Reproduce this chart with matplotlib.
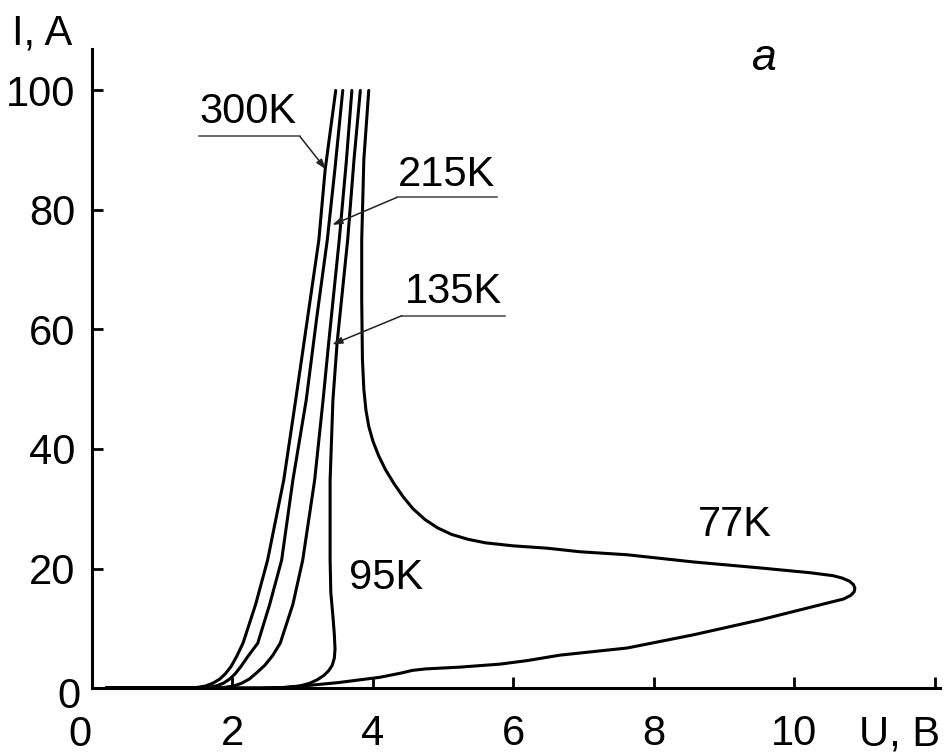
import matplotlib.pyplot as plt
import matplotlib.transforms as mtransforms

plt.rcParams['font.family'] = ['Liberation Sans', 'DejaVu Sans']

# I-V curves (U in volts, I in amperes)
u_300 = [0.2, 1.30, 1.50, 1.62, 1.72, 1.82, 1.90, 1.98, 2.06, 2.15, 2.33, 2.50, 2.73, 2.90,
         3.07, 3.23, 3.32, 3.47]
i_300 = [0.0, 0.0, 0.1, 0.35, 0.8, 1.5, 2.4, 3.6, 5.3, 7.5, 14.0, 21.4, 34.8, 48.2,
         62.0, 75.0, 86.8, 100.0]

u_215 = [0.2, 1.45, 1.65, 1.77, 1.87, 1.96, 2.04, 2.12, 2.22, 2.36, 2.53, 2.70, 2.86, 3.05,
         3.20, 3.35, 3.46, 3.57]
i_215 = [0.0, 0.0, 0.1, 0.35, 0.8, 1.5, 2.4, 3.6, 5.3, 7.5, 14.0, 21.4, 34.8, 48.2,
         62.0, 75.0, 87.0, 100.0]

u_135 = [0.2, 1.65, 1.88, 2.02, 2.13, 2.24, 2.34, 2.46, 2.57, 2.68, 2.86, 3.00, 3.17, 3.29,
         3.37, 3.52, 3.62, 3.70]
i_135 = [0.0, 0.0, 0.1, 0.35, 0.8, 1.5, 2.5, 3.8, 5.4, 7.5, 14.0, 21.4, 34.8, 48.2,
         57.8, 75.0, 88.0, 100.0]

u_95 = [0.2, 2.40, 2.75, 2.96, 3.10, 3.21, 3.30, 3.37, 3.42, 3.45, 3.46, 3.45, 3.43, 3.40,
        3.39, 3.39, 3.43, 3.49, 3.64, 3.73, 3.82]
i_95 = [0.0, 0.0, 0.1, 0.35, 0.8, 1.4, 2.1, 2.9, 3.8, 5.0, 6.5, 9.0, 12.0, 16.0,
        21.4, 34.8, 48.2, 57.8, 75.0, 88.4, 100.0]

u_77 = [0.2, 2.40, 2.75, 2.96, 3.50, 4.10, 4.40, 4.56, 4.75, 5.00, 5.24, 5.81, 6.20, 6.66,
        7.62, 8.56, 9.51, 10.46, 10.70, 10.80, 10.85, 10.86, 10.84, 10.78, 10.68, 10.55,
        10.22, 9.51, 8.56, 7.62, 6.95, 6.48, 5.99, 5.60, 5.35, 5.12, 4.92, 4.74, 4.57,
        4.43, 4.30, 4.18, 4.08, 4.00, 3.94, 3.90, 3.87, 3.85, 3.84, 3.84, 3.87, 3.94]
i_77 = [0.0, 0.0, 0.1, 0.3, 0.9, 1.8, 2.5, 2.95, 3.2, 3.35, 3.5, 4.0, 4.6, 5.5,
        6.7, 8.9, 11.4, 14.2, 14.9, 15.5, 16.1, 16.7, 17.3, 17.9, 18.4, 18.8,
        19.3, 20.1, 21.1, 22.3, 22.8, 23.4, 23.8, 24.3, 24.9, 25.7, 26.8, 28.2, 30.0,
        32.0, 34.2, 36.5, 38.9, 41.3, 43.8, 46.5, 50.0, 55.0, 65.0, 75.0, 88.4, 100.0]

curves = [(u_300, i_300), (u_215, i_215), (u_135, i_135), (u_95, i_95), (u_77, i_77)]

x_ticks = [0, 2, 4, 6, 8, 10, 12]
x_tick_labels = ['', '2', '4', '6', '8', '10', '']
y_ticks = [0, 20, 40, 60, 80, 100]
y_tick_labels = ['', '20', '40', '60', '80', '100']

# labels with leader: text, text centre, shelf start, shelf end, arrow tip
leader_labels = [
    ('300K', (2.22, 96.4), (1.52, 92.3), (2.96, 92.3), (3.33, 86.8)),
    ('215K', (5.05, 85.9), (5.77, 82.1), (4.34, 82.1), (3.42, 77.5)),
    ('135K', (5.14, 66.2), (5.88, 62.3), (4.41, 62.3), (3.42, 57.5)),
]
plain_labels = [('95K', (4.19, 18.4)), ('77K', (9.15, 27.3))]

fig = plt.figure(figsize=(9.51, 7.54), dpi=100)
ax = fig.add_axes([0.0967, 0.0875, 0.8916, 0.848])

for u, i in curves:
    ax.plot(u, i, color='black', lw=2.2, solid_joinstyle='round', solid_capstyle='round')

for text, (tx, ty), shelf_a, shelf_b, tip in leader_labels:
    ax.text(tx, ty, text, fontsize=30, ha='center', va='center')
    ax.plot([shelf_a[0], shelf_b[0]], [shelf_a[1], shelf_b[1]], color='#444444', lw=1.1)
    ax.annotate('', xy=tip, xytext=shelf_b,
                arrowprops=dict(arrowstyle='-|>,head_length=0.6,head_width=0.2',
                                color='#222222', lw=1.1, shrinkA=0, shrinkB=0))

for text, (tx, ty) in plain_labels:
    ax.text(tx, ty, text, fontsize=30, ha='center', va='center')

# the two zeros at the origin sit a bit off their ticks
zero_x = mtransforms.offset_copy(ax.transAxes, fig=fig, x=-12, y=-47, units='dots')
ax.text(0, 0, '0', transform=zero_x, fontsize=30, ha='center', va='center')
zero_y = mtransforms.offset_copy(ax.transAxes, fig=fig, x=-23, y=-9, units='dots')
ax.text(0, 0, '0', transform=zero_y, fontsize=30, ha='center', va='center')

ax.text(0.804, 0.922, 'a', transform=fig.transFigure, fontsize=32, style='italic',
        ha='center', va='center')
ax.text(0.044, 0.956, 'I, A', transform=fig.transFigure, fontsize=30, ha='center', va='center')
ax.text(0.946, 0.026, 'U, B', transform=fig.transFigure, fontsize=30, ha='center', va='center')

ax.set_xlim(0, 12.07)
ax.set_ylim(0, 107)
ax.set_xticks(x_ticks)
ax.set_xticklabels(x_tick_labels)
ax.set_yticks(y_ticks)
ax.set_yticklabels(y_tick_labels)
ax.tick_params(direction='in', length=8, width=2, labelsize=30, colors='black')
ax.tick_params(axis='x', pad=19)
ax.tick_params(axis='y', pad=12)

for side in ['top', 'right']:
    ax.spines[side].set_visible(False)
for side in ['left', 'bottom']:
    ax.spines[side].set_linewidth(2.2)

plt.savefig('out.png', dpi=100)
